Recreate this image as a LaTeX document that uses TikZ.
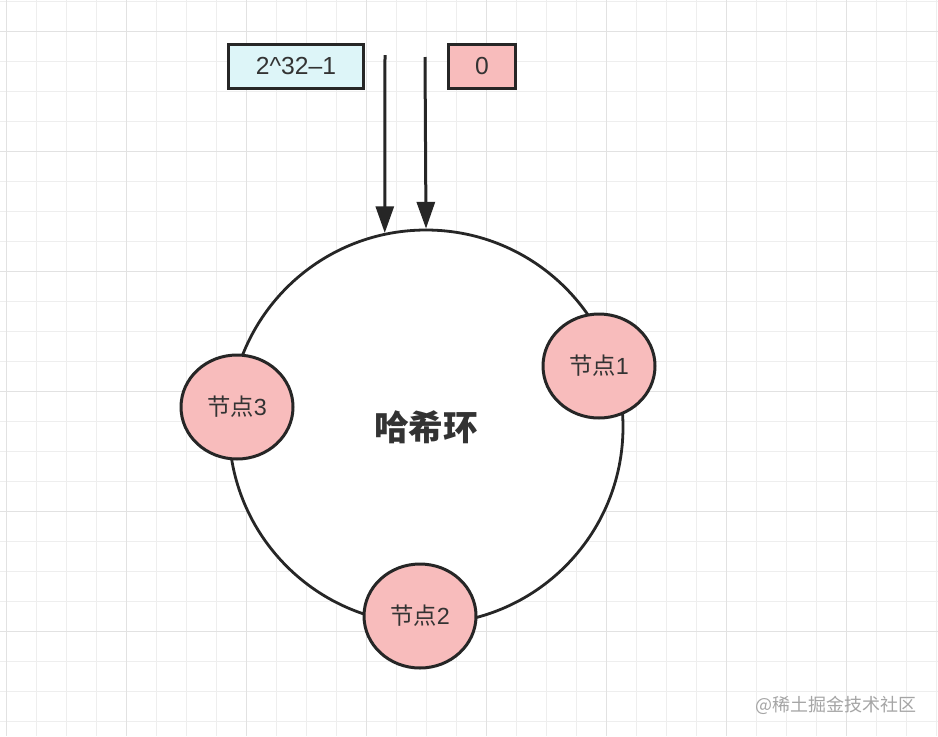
\documentclass[tikz,border=0pt]{standalone}
\usepackage{fontspec}
\setmainfont{Liberation Sans}
\newfontfamily\cjk{Noto Sans CJK SC}
\usetikzlibrary{arrows.meta,shapes.geometric}
\definecolor{hashpink}{RGB}{248,188,188}
\definecolor{hashcyan}{RGB}{221,245,248}
\definecolor{hashdark}{RGB}{38,38,38}
\definecolor{hashtext}{RGB}{51,51,51}
\definecolor{gridminor}{RGB}{238,238,238}
\definecolor{gridmajor}{RGB}{226,226,226}
\definecolor{markgray}{RGB}{165,165,165}
\tikzset{
  valuebox/.style={draw=hashdark,line width=2.4pt,minimum height=33pt,
        text=hashtext,font=\fontsize{18.5}{21}\selectfont,inner sep=0pt},
  hashnode/.style={ellipse,draw=hashdark,fill=hashpink,line width=2.25pt,
        minimum width=84pt,minimum height=78pt,inner sep=0pt,
        text=hashtext,font=\fontsize{17.5}{20}\selectfont},
  pointer/.style={-{Triangle[length=20pt,width=13.5pt]},line width=2.25pt,hashdark}
}

\begin{document}
\begin{tikzpicture}[x=0.75pt,y=-0.75pt]
  \useasboundingbox[fill=white] (0,0) rectangle (938,736);
  % background grid
  \foreach \i in {0,...,31}
    \draw[gridminor,line width=0.75pt] (6.7+30*\i,0) -- (6.7+30*\i,736);
  \foreach \i in {0,...,24}
    \draw[gridminor,line width=0.75pt] (0,1.7+30*\i) -- (938,1.7+30*\i);
  \foreach \i in {0,...,7}
    \draw[gridmajor,line width=1.1pt] (6.7+120*\i,0) -- (6.7+120*\i,736);
  \foreach \i in {0,...,5}
    \draw[gridmajor,line width=1.1pt] (0,31.7+120*\i) -- (938,31.7+120*\i);

  \node[circle,draw=hashdark,fill=white,line width=2.1pt,minimum size=295.5pt,
        text=hashtext,font=\fontsize{26}{30}\selectfont\bfseries]
        (ring) at (426,427) {\cjk 哈希环};

  \node[hashnode] (n1) at (599,366) {{\cjk 节点}1};
  \node[hashnode] (n2) at (420,616) {{\cjk 节点}2};
  \node[hashnode] (n3) at (237,407) {{\cjk 节点}3};

  \node[valuebox,fill=hashcyan,minimum width=101pt] (vmax) at (296,66.5) {2\textasciicircum{}32--1};
  \node[valuebox,fill=hashpink,minimum width=50pt] (vzero) at (482,66.5) {0};

  \coordinate (pmax) at (385,55);
  \coordinate (pzero) at (425,57);
  \draw[pointer] (pmax) -- (ring.102);
  \draw[pointer] (pzero) -- (ring.90);

  \node[text=markgray,font=\fontsize{13.5}{16}\selectfont] (mark) at (836,705) {\cjk @稀土掘金技术社区};
\end{tikzpicture}
\end{document}
